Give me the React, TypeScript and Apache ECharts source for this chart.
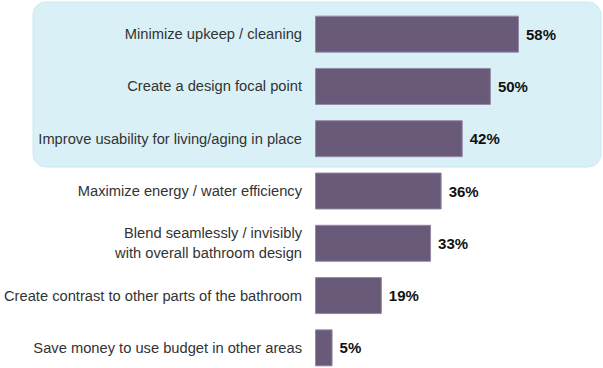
import React, { useEffect, useRef } from "react";
import * as echarts from "echarts";

const categories = [
  "Minimize upkeep / cleaning",
  "Create a design focal point",
  "Improve usability for living/aging in place",
  "Maximize energy / water efficiency",
  "Blend seamlessly / invisibly\nwith overall bathroom design",
  "Create contrast to other parts of the bathroom",
  "Save money to use budget in other areas",
];
const values = [58, 50, 42, 36, 33, 19, 5];

export default function App() {
  const ref = useRef<HTMLDivElement>(null);
  useEffect(() => {
    if (!ref.current) return;
    const chart = echarts.init(ref.current, undefined, { renderer: "svg" });
    chart.setOption({
      animation: false,
      backgroundColor: "#ffffff",
      graphic: [
        {
          type: "rect",
          z: -10,
          silent: true,
          shape: { x: 33, y: 2, width: 568, height: 165, r: 13 },
          style: { fill: "#d9f1f6", stroke: "#c9e8ef", lineWidth: 1 },
        },
      ],
      grid: {
        left: 315,
        top: 8,
        width: 281.4,
        height: 366,
        containLabel: false,
        outerBoundsMode: "none",
      },
      xAxis: {
        type: "value",
        min: 0,
        max: 80,
        show: false,
      },
      yAxis: {
        type: "category",
        inverse: true,
        data: categories,
        axisLine: { show: false },
        axisTick: { show: false },
        splitLine: { show: false },
        axisLabel: {
          margin: 13,
          color: "#333333",
          fontSize: 14.7,
          lineHeight: 20,
          fontFamily: "Liberation Sans, Arial, sans-serif",
        },
      },
      series: [
        {
          type: "bar",
          data: values,
          barWidth: 37,
          itemStyle: { color: "#6a5a7a", borderColor: "#9589a7", borderWidth: 1 },
          label: {
            show: true,
            position: "right",
            distance: 7,
            formatter: "{c}%",
            color: "#111111",
            fontSize: 15,
            fontWeight: "bold",
            fontFamily: "Liberation Sans, Arial, sans-serif",
          },
        },
      ],
    });
    return () => chart.dispose();
  }, []);
  return (
    <div style={{ position: "absolute", left: 0, top: 0, width: 603, height: 368, overflow: "hidden" }}>
      <div ref={ref} style={{ width: 603, height: 376 }} />
    </div>
  );
}
